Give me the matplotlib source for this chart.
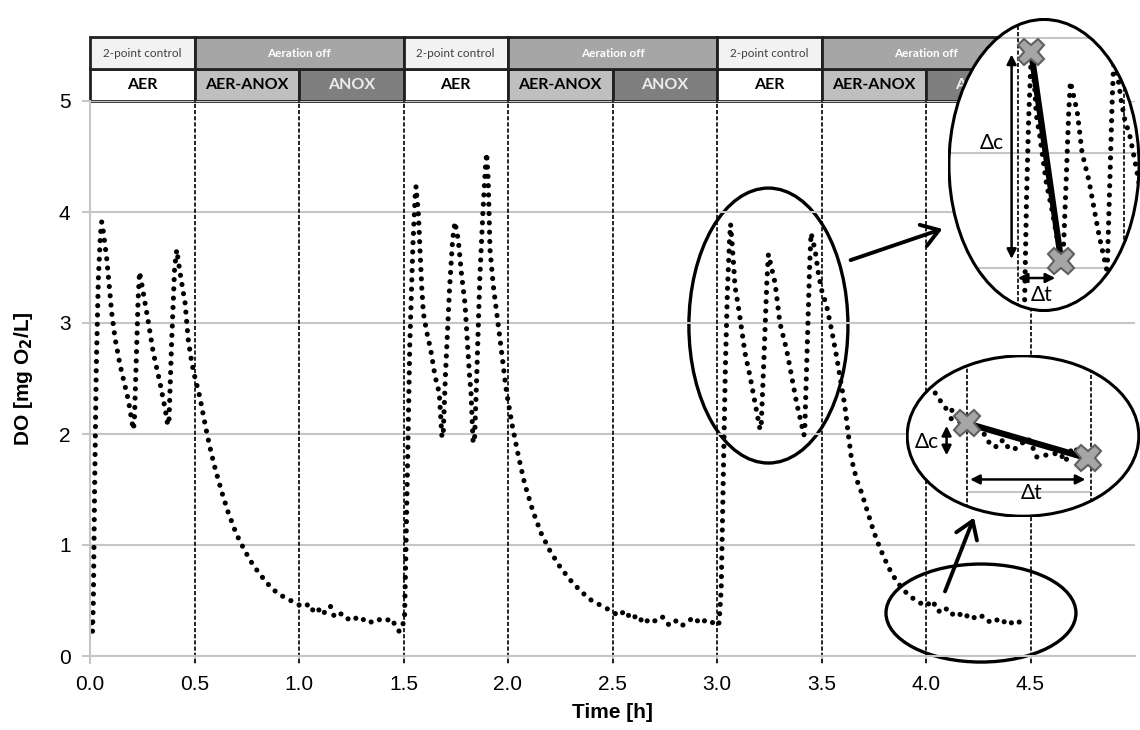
import matplotlib.pyplot as plt
from matplotlib.patches import Rectangle, Ellipse, FancyArrowPatch

cycle1_t = [0.008, 0.012, 0.016, 0.022, 0.030, 0.040, 0.050, 0.056, 0.062, 0.080, 0.104, 0.120,
            0.144, 0.164, 0.183, 0.200, 0.207, 0.212, 0.220, 0.230, 0.237, 0.245, 0.279, 0.303,
            0.335, 0.359, 0.372, 0.378, 0.390, 0.405, 0.415, 0.431, 0.455, 0.470, 0.487, 0.502,
            0.526, 0.542, 0.560, 0.580, 0.600, 0.630, 0.660, 0.700, 0.740, 0.780, 0.820, 0.860,
            0.900, 0.940, 0.980, 1.020, 1.050, 1.070, 1.090, 1.110, 1.130, 1.150, 1.170, 1.200,
            1.230, 1.260, 1.290, 1.320, 1.350, 1.380, 1.410, 1.440, 1.460, 1.480, 1.500]
cycle1_do = [0.30, 0.22, 0.50, 1.50, 2.60, 3.40, 3.80, 3.91, 3.85, 3.58, 3.09, 2.86,
             2.62, 2.46, 2.31, 2.12, 2.04, 2.10, 2.60, 3.20, 3.46, 3.38, 3.01, 2.73,
             2.46, 2.23, 2.08, 2.12, 2.80, 3.50, 3.66, 3.45, 3.18, 2.85, 2.64, 2.51,
             2.33, 2.17, 2.00, 1.83, 1.68, 1.48, 1.30, 1.10, 0.95, 0.82, 0.72, 0.63,
             0.56, 0.52, 0.48, 0.44, 0.47, 0.40, 0.43, 0.37, 0.41, 0.45, 0.35, 0.38,
             0.33, 0.36, 0.31, 0.34, 0.30, 0.33, 0.31, 0.34, 0.28, 0.22, 0.30]
cycle2_t = [1.505, 1.510, 1.520, 1.530, 1.545, 1.556, 1.560, 1.571, 1.579, 1.587, 1.595, 1.611,
            1.630, 1.651, 1.671, 1.684, 1.690, 1.700, 1.720, 1.735, 1.746, 1.762, 1.778, 1.794,
            1.805, 1.815, 1.823, 1.833, 1.840, 1.850, 1.865, 1.880, 1.892, 1.898, 1.905, 1.914,
            1.930, 1.946, 1.962, 1.978, 1.990, 2.000, 2.020, 2.050, 2.080, 2.120, 2.160, 2.200,
            2.250, 2.300, 2.350, 2.400, 2.450, 2.500, 2.530, 2.560, 2.590, 2.620, 2.650, 2.680,
            2.710, 2.740, 2.770, 2.800, 2.830, 2.860, 2.890, 2.920, 2.950, 2.980, 3.000]
cycle2_do = [0.35, 0.80, 1.80, 2.80, 3.70, 4.15, 4.23, 3.99, 3.66, 3.33, 3.09, 2.92,
             2.76, 2.52, 2.37, 1.97, 2.00, 2.50, 3.30, 3.75, 3.91, 3.75, 3.43, 3.18,
             2.85, 2.55, 2.37, 1.92, 1.95, 2.50, 3.40, 4.00, 4.40, 4.53, 4.30, 3.66,
             3.33, 3.09, 2.85, 2.60, 2.42, 2.30, 2.08, 1.80, 1.55, 1.30, 1.10, 0.95,
             0.80, 0.68, 0.58, 0.50, 0.45, 0.40, 0.36, 0.41, 0.33, 0.37, 0.29, 0.34,
             0.31, 0.35, 0.28, 0.32, 0.27, 0.31, 0.35, 0.29, 0.33, 0.30, 0.27]
cycle3_t = [3.010, 3.020, 3.030, 3.040, 3.050, 3.060, 3.065, 3.078, 3.086, 3.102, 3.118, 3.134,
            3.158, 3.182, 3.206, 3.212, 3.225, 3.238, 3.246, 3.278, 3.301, 3.333, 3.357, 3.381,
            3.416, 3.420, 3.432, 3.443, 3.450, 3.469, 3.485, 3.500, 3.525, 3.548, 3.572, 3.596,
            3.612, 3.628, 3.644, 3.668, 3.692, 3.720, 3.750, 3.780, 3.820, 3.860, 3.900, 3.950,
            4.000, 4.030, 4.060, 4.090, 4.120, 4.150, 4.180, 4.210, 4.240, 4.270, 4.300, 4.330,
            4.360, 4.390, 4.420, 4.450, 4.480]
cycle3_do = [0.30, 0.60, 1.60, 2.60, 3.30, 3.75, 3.89, 3.57, 3.33, 3.15, 2.94, 2.73,
             2.52, 2.28, 2.04, 2.10, 2.70, 3.35, 3.62, 3.36, 3.00, 2.76, 2.52, 2.28,
             1.99, 2.05, 2.80, 3.50, 3.81, 3.66, 3.45, 3.30, 3.15, 2.94, 2.70, 2.43,
             2.25, 2.00, 1.77, 1.59, 1.47, 1.30, 1.12, 0.97, 0.80, 0.67, 0.58, 0.50,
             0.45, 0.50, 0.40, 0.44, 0.37, 0.40, 0.34, 0.38, 0.33, 0.36, 0.31, 0.34,
             0.29, 0.33, 0.28, 0.31, 0.27]

# phases (start times, labels)
phase_start = [0.0, 0.5, 1.0, 1.5, 2.0, 2.5, 3.0, 3.5, 4.0]
phase_label = ['AER', 'AER-ANOX', 'ANOX'] * 3
mode_start = [0.0, 0.5, 1.5, 2.0, 3.0, 3.5]
mode_end = [0.5, 1.5, 2.0, 3.0, 3.5, 4.5]
mode_label = ['2-point control', 'Aeration off'] * 3

# zoomed details
slope1_t = [3.062, 3.203]
slope1_do = [3.88, 2.06]
tail_t = [4.135, 4.141, 4.149, 4.155, 4.161, 4.169, 4.165, 4.185, 4.200, 4.226, 4.240, 4.246,
          4.261, 4.272, 4.282, 4.290, 4.300, 4.323, 4.333, 4.341, 4.361, 4.388, 4.398, 4.414,
          4.428, 4.445]
tail_do = [0.582, 0.568, 0.553, 0.542, 0.528, 0.534, 0.510, 0.499, 0.495, 0.476, 0.456, 0.433,
           0.428, 0.448, 0.428, 0.419, 0.425, 0.453, 0.425, 0.399, 0.405, 0.411, 0.385, 0.428,
           0.411, 0.395]
slope2_t = [4.200, 4.445]
slope2_do = [0.495, 0.395]

time_h = cycle1_t + cycle2_t + cycle3_t
do_mg = cycle1_do + cycle2_do + cycle3_do

GRID = '#c6c6c6'
DOTS = dict(color='black', lw=3.7, linestyle=(0, (0.01, 1.8)), dash_capstyle='round')
CALIBRI = ['Lato', 'Open Sans', 'DejaVu Sans']

plt.rcParams['font.family'] = ['Liberation Sans', 'DejaVu Sans']

fig = plt.figure(figsize=(11.4, 7.3), dpi=100)
ax = fig.add_axes([90 / 1140, 74 / 730, 1045 / 1140, 555 / 730])
ax.set_xlim(0, 5)
ax.set_ylim(0, 5)
ax.set_xticks([0, 0.5, 1, 1.5, 2, 2.5, 3, 3.5, 4, 4.5])
ax.set_xticklabels(['0.0', '0.5', '1.0', '1.5', '2.0', '2.5', '3.0', '3.5', '4.0', '4.5'])
ax.set_yticks([0, 1, 2, 3, 4, 5])
ax.tick_params(labelsize=15, color=GRID, length=6, width=1.5, pad=8)
ax.grid(axis='y', color=GRID, lw=1.5)
for s in ['top', 'right']:
    ax.spines[s].set_visible(False)
for s in ['left', 'bottom']:
    ax.spines[s].set_color(GRID)
    ax.spines[s].set_linewidth(1.5)
ax.set_xlabel('Time [h]', fontsize=15, fontweight='bold', labelpad=6)
ax.set_ylabel('DO [mg O$_\\mathbf{2}$/L]', fontsize=15, fontweight='bold', labelpad=17)

ax.vlines(phase_start[1:] + [4.5], -0.06, 5, colors='black', lw=1.2,
          linestyles=(0, (2.5, 1.2)), clip_on=False)
ax.plot(time_h, do_mg, **DOTS)

# header table above the plot
row_h = 0.288
fills = {'AER': ('white', 'black'), 'AER-ANOX': ('#bfbfbf', 'black'), 'ANOX': ('#7f7f7f', '#ececec')}
for x0, lab in zip(phase_start, phase_label):
    fc, tc = fills[lab]
    ax.add_patch(Rectangle((x0, 5), 0.5, row_h, facecolor=fc, edgecolor='#202020', lw=2, clip_on=False))
    ax.text(x0 + 0.25, 5 + row_h / 2, lab, ha='center', va='center', fontsize=11.5,
            fontweight='bold', color=tc, family=CALIBRI)
for x0, x1, lab in zip(mode_start, mode_end, mode_label):
    ctrl = lab.startswith('2')
    ax.add_patch(Rectangle((x0, 5 + row_h), x1 - x0, row_h, facecolor='#f2f2f2' if ctrl else '#a6a6a6',
                           edgecolor='#202020', lw=2, clip_on=False))
    ax.text((x0 + x1) / 2, 5 + 1.5 * row_h, lab, ha='center', va='center', fontsize=8.5,
            color='#404040' if ctrl else 'white', fontweight='normal' if ctrl else 'bold', family=CALIBRI)

# ellipses marking zoomed regions
ax.add_patch(Ellipse((3.246, 2.977), 0.761, 2.477, fill=False, lw=2.4, ec='black', clip_on=False))
ax.add_patch(Ellipse((4.263, 0.387), 0.909, 0.883, fill=False, lw=2.4, ec='black', clip_on=False))


def zoom_axes(box, xlim, ylim):
    a = fig.add_axes(box)
    a.set_xlim(*xlim)
    a.set_ylim(*ylim)
    a.axis('off')
    clip = Ellipse((0.5, 0.5), 0.99, 0.99, transform=a.transAxes, fc='white', ec='none')
    a.add_patch(clip)
    a.add_patch(Ellipse((0.5, 0.5), 0.99, 0.99, transform=a.transAxes, fill=False,
                        ec='black', lw=2.2, zorder=10))
    return a, clip


# upper zoom: slope after aeration stops
up, clip_up = zoom_axes([948 / 1140, 418 / 730, 192 / 1140, 294 / 730], (2.6714, 3.5728), (1.6174, 4.1739))
for art in [up.hlines([2, 3, 4], 2.6, 3.6, colors=GRID, lw=1.5),
            up.vlines([3.0, 3.5], 1.5, 4.3, colors='black', lw=1.2, linestyles=(0, (2.5, 1.2))),
            up.plot(time_h, do_mg, **DOTS)[0],
            up.plot(slope1_t, slope1_do, color='black', lw=4.5, solid_capstyle='round')[0]]:
    art.set_clip_path(clip_up)
up.plot(slope1_t, slope1_do, ls='none', marker='X', ms=19, mfc='#a6a6a6', mec='#606060', mew=1.5)
up.annotate('', xy=(2.970, 3.881), xytext=(2.970, 2.055),
            arrowprops=dict(arrowstyle='<|-|>', color='black', lw=1.8, mutation_scale=14))
up.annotate('', xy=(2.986, 1.913), xytext=(3.188, 1.913),
            arrowprops=dict(arrowstyle='<|-|>', color='black', lw=1.8, mutation_scale=14))
up.text(2.877, 3.087, 'Δc', fontsize=15, ha='center', va='center', family=CALIBRI)
up.text(3.111, 1.765, 'Δt', fontsize=15, ha='center', va='center', family=CALIBRI)

# lower zoom: slope in the anoxic tail
lo, clip_lo = zoom_axes([906 / 1140, 213 / 730, 234 / 1140, 162 / 730], (4.0758, 4.5499), (0.2277, 0.6906))
for art in [lo.hlines([0.3], 4.2, 4.45, colors=GRID, lw=1.5),
            lo.vlines([4.2, 4.45], 0.2, 0.7, colors='black', lw=1.2, linestyles=(0, (2.5, 1.2))),
            lo.plot(tail_t, tail_do, **DOTS)[0],
            lo.plot(slope2_t, slope2_do, color='black', lw=4.5, solid_capstyle='round')[0]]:
    art.set_clip_path(clip_lo)
lo.plot(slope2_t, slope2_do, ls='none', marker='X', ms=19, mfc='#a6a6a6', mec='#606060', mew=1.5)
lo.annotate('', xy=(4.158, 0.496), xytext=(4.158, 0.396),
            arrowprops=dict(arrowstyle='<|-|>', color='black', lw=1.8, mutation_scale=14))
lo.annotate('', xy=(4.2, 0.335), xytext=(4.445, 0.335),
            arrowprops=dict(arrowstyle='<|-|>', color='black', lw=1.8, mutation_scale=14))
lo.text(4.1177, 0.443, 'Δc', fontsize=15, ha='center', va='center', family=CALIBRI)
lo.text(4.330, 0.296, 'Δt', fontsize=15, ha='center', va='center', family=CALIBRI)

# arrows from marked regions to the zooms (figure inches)
for a, b in [((8.48, 4.69), (9.45, 5.02)), ((9.44, 1.36), (9.75, 2.15))]:
    fig.add_artist(FancyArrowPatch(a, b, transform=fig.dpi_scale_trans, arrowstyle='->,head_length=0.6,head_width=0.4',
                                   mutation_scale=20, lw=2.8, color='black', zorder=20))

fig.savefig('out.png', dpi=100)
